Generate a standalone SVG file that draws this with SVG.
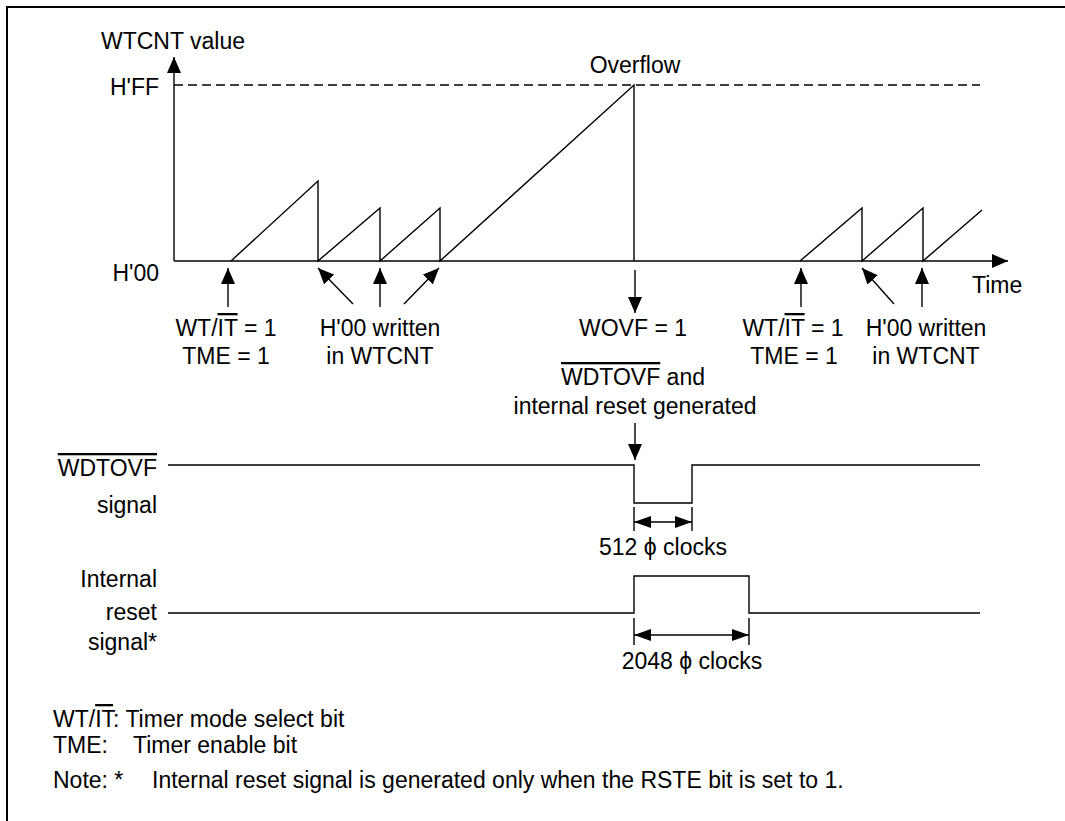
<svg xmlns="http://www.w3.org/2000/svg" width="1065" height="821" viewBox="0 0 1065 821">
<style>
text{font-family:"Liberation Sans",Arial,sans-serif;font-size:23px;fill:#000}
.m{text-anchor:middle}
.e{text-anchor:end}
.ov{text-decoration:overline}
.ln{fill:none;stroke:#000;stroke-width:1.4}
.ar{fill:none;stroke:#000;stroke-width:1.4;marker-end:url(#ah)}
.dim{fill:none;stroke:#000;stroke-width:1.4;marker-start:url(#ah2);marker-end:url(#ah2)}
</style>
<defs>
<marker id="ah" viewBox="0 0 16 14" refX="16" refY="7" markerWidth="16" markerHeight="14" markerUnits="userSpaceOnUse" orient="auto"><path d="M0,0 L16,7 L0,14 Z" fill="#000"/></marker>
<marker id="ah2" viewBox="0 0 17 12" refX="17" refY="6" markerWidth="17" markerHeight="12" markerUnits="userSpaceOnUse" orient="auto-start-reverse"><path d="M0,0 L17,6 L0,12 Z" fill="#000"/></marker>
</defs>
<rect width="1065" height="821" fill="#fff"/>
<g id="frame"><path d="M7,821 V7 H1065" fill="none" stroke="#000" stroke-width="2"/></g>

<g id="axes">
<path class="ar" d="M174,261 V57"/>
<path class="ar" d="M174,261 H1008"/>
<path d="M174,85 H980" fill="none" stroke="#000" stroke-width="1.3" stroke-dasharray="9 5"/>
<text x="173" y="49" class="m">WTCNT value</text>
<text x="159" y="95" class="e">H'FF</text>
<text x="159" y="281" class="e">H'00</text>
<text x="972" y="293">Time</text>
<text x="635" y="73" class="m">Overflow</text>
</g>

<g id="sawtooth">
<path class="ln" d="M231,261 L318,181 V261 L380,208 V261 L440,208 V261 L634,85 V261"/>
<path class="ln" d="M800,261 L862,208 V261 L923,208 V261 L982,210"/>
</g>

<g id="connectors">
<path class="ar" d="M228,307 V268"/>
<path class="ar" d="M353,304 L318,268"/>
<path class="ar" d="M380,307 V268"/>
<path class="ar" d="M404,304 L439,268"/>
<path class="ar" d="M635,270 V313"/>
<path class="ar" d="M801,307 V268"/>
<path class="ar" d="M894,304 L862,268"/>
<path class="ar" d="M922,307 V268"/>
<path class="ar" d="M635,423 V460"/>
</g>

<g id="labels-left">
<text x="226" y="336" class="m">WT/<tspan class="ov">IT</tspan> = 1</text>
<text x="226" y="364" class="m">TME = 1</text>
<text x="380" y="336" class="m">H'00 written</text>
<text x="380" y="364" class="m">in WTCNT</text>
</g>

<g id="labels-overflow">
<text x="633" y="336" class="m">WOVF = 1</text>
<text x="633" y="385" class="m"><tspan class="ov">WDTOVF</tspan> and</text>
<text x="635" y="414" class="m">internal reset generated</text>
</g>

<g id="labels-right">
<text x="793" y="336" class="m">WT/<tspan class="ov">IT</tspan> = 1</text>
<text x="794" y="364" class="m">TME = 1</text>
<text x="926" y="336" class="m">H'00 written</text>
<text x="926" y="364" class="m">in WTCNT</text>
</g>

<g id="wdtovf-signal">
<text x="157" y="476" class="e"><tspan class="ov">WDTOVF</tspan></text>
<text x="157" y="513" class="e">signal</text>
<path class="ln" d="M168,465 H634 V503 H692 V465 H980"/>
<path class="ln" d="M634,507 V531 M692,507 V531"/>
<path class="dim" d="M634,522 H692"/>
<text x="663" y="555" class="m">512 ϕ clocks</text>
</g>

<g id="reset-signal">
<text x="157" y="587" class="e">Internal</text>
<text x="157" y="620" class="e">reset</text>
<text x="157" y="650" class="e">signal*</text>
<path class="ln" d="M168,613 H634 V576 H749 V613 H980"/>
<path class="ln" d="M634,618 V645 M749,618 V645"/>
<path class="dim" d="M634,635 H749"/>
<text x="692" y="669" class="m">2048 ϕ clocks</text>
</g>

<g id="notes">
<text x="53" y="727">WT/<tspan class="ov">IT</tspan>: Timer mode select bit</text>
<text x="53" y="753">TME:</text>
<text x="133" y="753">Timer enable bit</text>
<text x="53" y="788">Note: *</text>
<text x="152" y="788">Internal reset signal is generated only when the RSTE bit is set to 1.</text>
</g>
</svg>
